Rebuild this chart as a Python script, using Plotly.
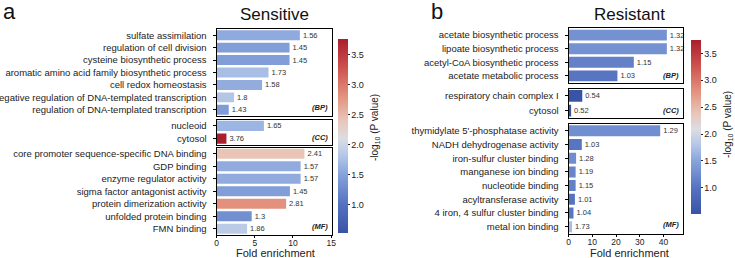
import plotly.graph_objects as go

W, H = 735, 258
FONT = "Liberation Sans, Arial, sans-serif"

# ---------------- data ----------------
s_bp_terms = ["sulfate assimilation", "regulation of cell division", "cysteine biosynthetic process",
              "aromatic amino acid family biosynthetic process", "cell redox homeostasis",
              "negative regulation of DNA-templated transcription", "regulation of DNA-templated transcription"]
s_bp_fold = [10.9, 9.55, 9.55, 6.8, 5.96, 2.3, 1.6]
s_bp_logp = [1.56, 1.45, 1.45, 1.73, 1.58, 1.8, 1.43]

s_cc_terms = ["nucleoid", "cytosol"]
s_cc_fold = [6.2, 1.3]
s_cc_logp = [1.65, 3.76]

s_mf_terms = ["core promoter sequence-specific DNA binding", "GDP binding", "enzyme regulator activity",
              "sigma factor antagonist activity", "protein dimerization activity",
              "unfolded protein binding", "FMN binding"]
s_mf_fold = [11.5, 11.0, 11.0, 9.6, 9.1, 4.6, 4.0]
s_mf_logp = [2.41, 1.57, 1.57, 1.45, 2.81, 1.3, 1.86]

r_bp_terms = ["acetate biosynthetic process", "lipoate biosynthetic process",
              "acetyl-CoA biosynthetic process", "acetate metabolic process"]
r_bp_fold = [41.4, 41.4, 27.5, 20.6]
r_bp_logp = [1.32, 1.32, 1.15, 1.03]

r_cc_terms = ["respiratory chain complex I", "cytosol"]
r_cc_fold = [5.8, 1.1]
r_cc_logp = [0.54, 0.52]

r_mf_terms = ["thymidylate 5'-phosphatase activity", "NADH dehydrogenase activity",
              "iron-sulfur cluster binding", "manganese ion binding", "nucleotide binding",
              "acyltransferase activity", "4 iron, 4 sulfur cluster binding", "metal ion binding"]
r_mf_fold = [38.6, 5.6, 3.2, 3.0, 3.0, 2.7, 2.1, 1.5]
r_mf_logp = [1.29, 1.03, 1.28, 1.19, 1.15, 1.01, 1.04, 1.73]

ont_labels = ["(BP)", "(CC)", "(MF)"]
cb_ticks = [1.0, 1.5, 2.0, 2.5, 3.0, 3.5]
s_xticks = [0, 5, 10, 15]
r_xticks = [0, 10, 20, 30, 40]
c_min, c_max = 0.52, 3.76
# colour anchors (value, colour) for the -log10 P scale
cs_vals = [0.52, 1.0, 1.5, 1.8, 2.1, 2.4, 2.8, 3.3, 3.76]
cs_cols = ["#3953a4", "#5572c0", "#86a3db", "#b3c6e8", "#dcdde3", "#e8c6b8", "#e3927e", "#cc4f4d", "#a91f2d"]
colorscale = [[(v - c_min) / (c_max - c_min), c] for v, c in zip(cs_vals, cs_cols)]


def px_x(x):
    return x / W


def px_y(y):
    return 1 - y / H


panels = [
    ((216.5, 332.0), [(s_bp_terms, s_bp_fold, s_bp_logp, (29, 116)),
                      (s_cc_terms, s_cc_fold, s_cc_logp, (119.5, 145)),
                      (s_mf_terms, s_mf_fold, s_mf_logp, (147.5, 235))], [0, 15.1], s_xticks, "coloraxis"),
    ((568.5, 683.0), [(r_bp_terms, r_bp_fold, r_bp_logp, (28.3, 82.7)),
                      (r_cc_terms, r_cc_fold, r_cc_logp, (88.5, 118)),
                      (r_mf_terms, r_mf_fold, r_mf_logp, (124, 233.5))], [0, 48.2], r_xticks, "coloraxis2"),
]

fig = go.Figure()
layout = dict(width=W, height=H, margin=dict(l=0, r=0, t=0, b=0), template="none",
              paper_bgcolor="white", plot_bgcolor="white", showlegend=False, hovermode=False,
              font=dict(family=FONT, size=9, color="#222"))
annotations = []
k = 0
for (xd, subs, xr, xt, cax) in panels:
    for j, (terms, fold, logp, yd) in enumerate(subs):
        k += 1
        xa = "x" if k == 1 else "x%d" % k
        ya = "y" if k == 1 else "y%d" % k
        fig.add_trace(go.Bar(
            y=terms, x=fold, orientation="h", xaxis=xa, yaxis=ya, width=0.8,
            marker=dict(color=logp, coloraxis=cax, line=dict(width=0)),
            text=["%g" % v for v in logp], textposition="outside", constraintext="none",
            cliponaxis=False, textfont=dict(size=7.5, color="#333", family=FONT),
            hoverinfo="skip"))
        last = (j == len(subs) - 1)
        layout["xaxis" if k == 1 else "xaxis%d" % k] = dict(
            domain=[px_x(xd[0]), px_x(xd[1])], anchor=ya, range=xr, showgrid=False, zeroline=False,
            showline=True, linecolor="black", linewidth=1, mirror=True,
            tickvals=xt if last else [], ticks="outside" if last else "", ticklen=2, tickcolor="black",
            showticklabels=last, tickfont=dict(size=8.5, color="#222"), ticklabelstandoff=-2,
            automargin=False)
        layout["yaxis" if k == 1 else "yaxis%d" % k] = dict(
            domain=[px_y(yd[1]), px_y(yd[0])], anchor=xa, type="category",
            categoryorder="array", categoryarray=terms, range=[len(terms) - 0.5, -0.5],
            showgrid=False, zeroline=False, showline=True, linecolor="black", linewidth=1, mirror=True,
            ticks="outside", ticklen=3, tickcolor="black", tickfont=dict(size=9.5, color="#222"),
            ticklabelstandoff=4, automargin=False)
        annotations.append(dict(text="<b><i>%s</i></b>" % ont_labels[j], xref=xa + " domain",
                                yref=ya + " domain", x=0.985, y=0.02, xanchor="right", yanchor="bottom",
                                showarrow=False, font=dict(size=7.5, color="#222")))

cb_common = dict(thickness=10, thicknessmode="pixels", lenmode="pixels", xanchor="left", yanchor="top",
                 xpad=0, ypad=0, outlinewidth=0, tickvals=cb_ticks, ticktext=["%.1f" % v for v in cb_ticks],
                 ticks="outside", ticklen=2, tickcolor="#222", tickfont=dict(size=9, color="#222"))
layout["coloraxis"] = dict(colorscale=colorscale, cmin=c_min, cmax=c_max,
                           colorbar=dict(cb_common, x=px_x(337.7), y=px_y(39.3), len=194))
layout["coloraxis2"] = dict(colorscale=colorscale, cmin=c_min, cmax=c_max,
                            colorbar=dict(cb_common, x=px_x(691), y=px_y(39.5), len=174))

cb_title = "-log<sub>10</sub> (P value)"
annotations += [
    dict(text="Sensitive", xref="paper", yref="paper", x=px_x(274), y=px_y(15), xanchor="center",
         yanchor="middle", showarrow=False, font=dict(size=17, color="#111")),
    dict(text="Resistant", xref="paper", yref="paper", x=px_x(629), y=px_y(15), xanchor="center",
         yanchor="middle", showarrow=False, font=dict(size=17, color="#111")),
    dict(text="a", xref="paper", yref="paper", x=px_x(1), y=px_y(12), xanchor="left",
         yanchor="middle", showarrow=False, font=dict(size=22, color="#111")),
    dict(text="b", xref="paper", yref="paper", x=px_x(429), y=px_y(12), xanchor="left",
         yanchor="middle", showarrow=False, font=dict(size=22, color="#111")),
    dict(text="Fold enrichment", xref="paper", yref="paper", x=px_x(275), y=px_y(252.5), xanchor="center",
         yanchor="middle", showarrow=False, font=dict(size=11, color="#222")),
    dict(text="Fold enrichment", xref="paper", yref="paper", x=px_x(629), y=px_y(252.5), xanchor="center",
         yanchor="middle", showarrow=False, font=dict(size=11, color="#222")),
    dict(text=cb_title, xref="paper", yref="paper", x=px_x(375), y=px_y(128), xanchor="center",
         yanchor="middle", textangle=-90, showarrow=False, font=dict(size=10, color="#222")),
    dict(text=cb_title, xref="paper", yref="paper", x=px_x(728), y=px_y(125), xanchor="center",
         yanchor="middle", textangle=-90, showarrow=False, font=dict(size=10, color="#222")),
]
layout["annotations"] = annotations
fig.update_layout(**layout)
fig.write_html("out.html", config={"displayModeBar": False, "staticPlot": True},
               post_script="document.body.style.margin='0';document.body.style.overflow='hidden';")
